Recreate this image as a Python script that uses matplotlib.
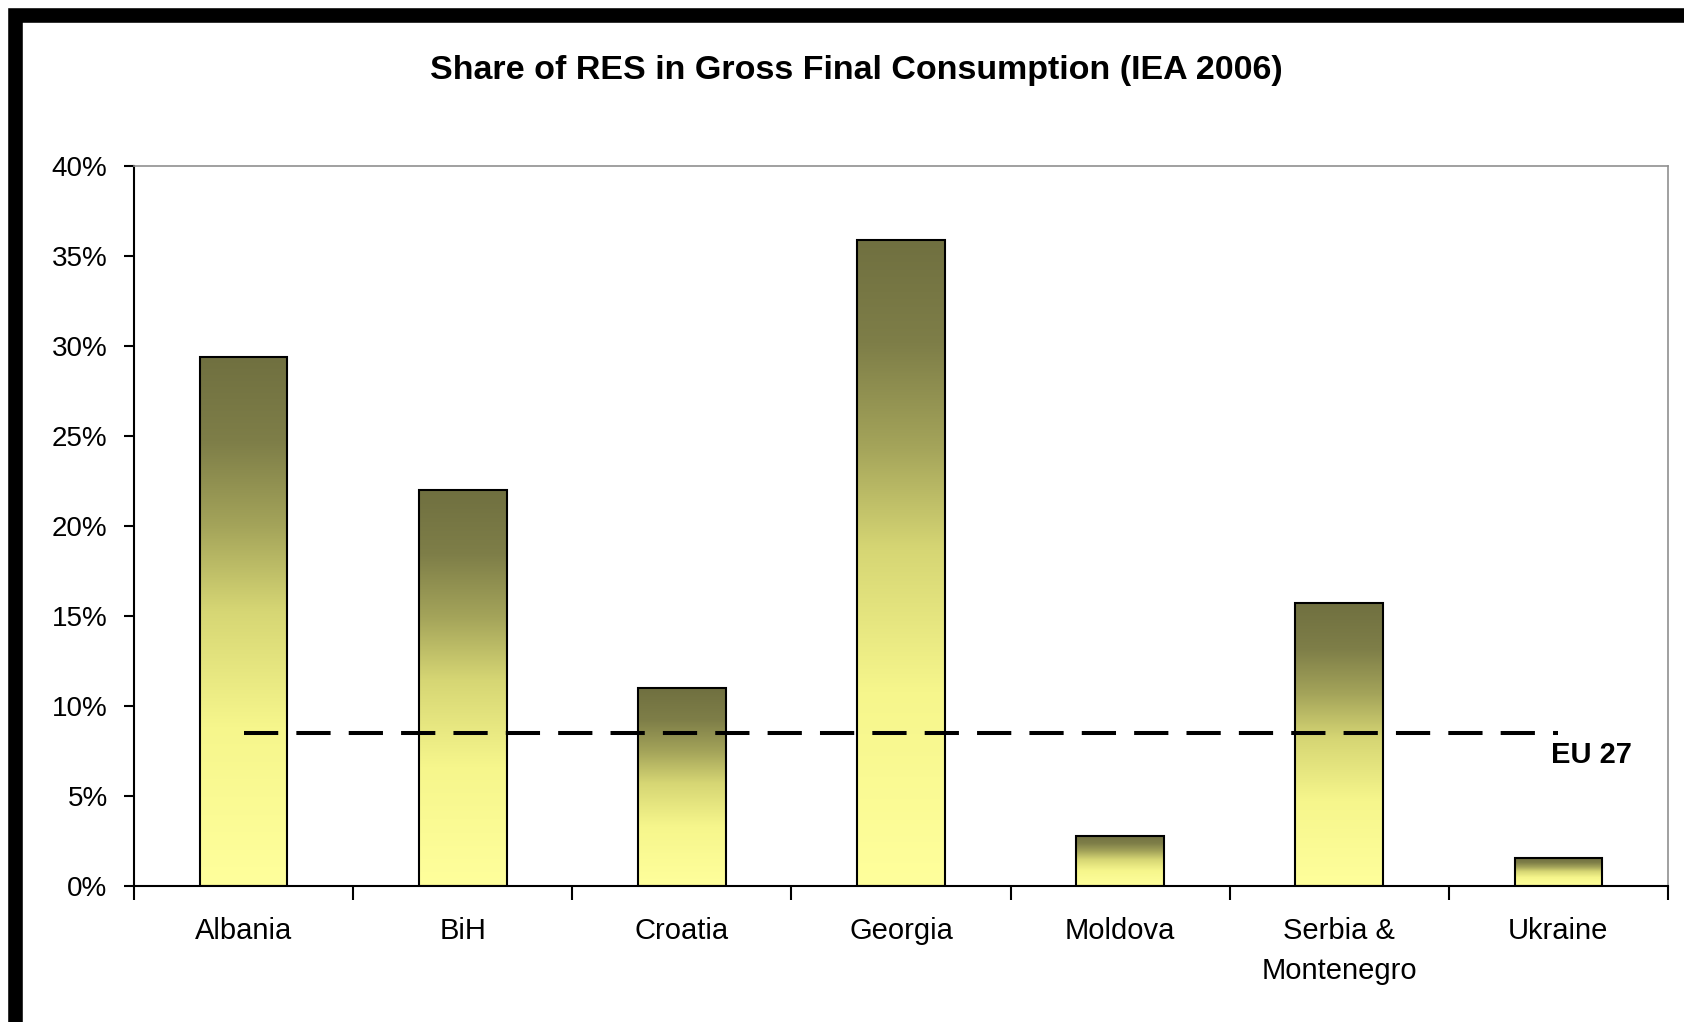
import numpy as np
import matplotlib
matplotlib.use("Agg")
import matplotlib.pyplot as plt
from matplotlib.colors import LinearSegmentedColormap
from matplotlib.patches import Rectangle

countries = ["Albania", "BiH", "Croatia", "Georgia", "Moldova",
             "Serbia &\nMontenegro", "Ukraine"]
res_share = [29.4, 22.0, 11.0, 35.9, 2.8, 15.7, 1.55]
eu27_share = 8.5
y_ticks = [0, 5, 10, 15, 20, 25, 30, 35, 40]

plt.rcParams["font.family"] = ["Liberation Sans", "DejaVu Sans"]

W, H, DPI = 1684, 1022, 100
fig = plt.figure(figsize=(W / DPI, H / DPI), dpi=DPI, facecolor="white")
ax = fig.add_axes([134 / W, 1 - 886 / H, (1668 - 134) / W, (886 - 166) / H])

# olive-to-pale-yellow fill, dark at the top of each bar
fill_cmap = LinearSegmentedColormap.from_list(
    "olive", [(0.0, "#ffff9c"), (0.30, "#f6f68c"), (0.52, "#d6d674"),
              (0.68, "#a4a45a"), (0.84, "#7e7e48"), (1.0, "#707040")])
grad = np.linspace(0, 1, 256).reshape(-1, 1)

x = np.arange(len(countries))
bar_w = 0.40
bars = ax.bar(x, res_share, width=bar_w, color="none", edgecolor="black",
              linewidth=1.5, zorder=3)
for b in bars:
    x0, w, h = b.get_x(), b.get_width(), b.get_height()
    im = ax.imshow(grad, cmap=fill_cmap, origin="lower", aspect="auto",
                   extent=(x0, x0 + w, 0, h), interpolation="bilinear",
                   zorder=2)
    im.set_clip_path(b)

ax.plot([x[0], x[-1]], [eu27_share, eu27_share], color="black", lw=2.9,
        linestyle=(0, (8.5, 4.5)), dash_capstyle="butt", zorder=4)
ax.text(6.15, 7.3, "EU 27", ha="center", va="center", fontsize=21,
        fontweight="bold", zorder=5)

ax.set_xlim(-0.5, len(countries) - 0.5)
ax.set_ylim(0, 40)
ax.set_yticks(y_ticks)
ax.set_yticklabels([f"{v}%" for v in y_ticks])
ax.set_xticks(x)
ax.set_xticklabels(countries, linespacing=1.55)
ax.set_xticks(np.arange(-0.5, len(countries), 1.0), minor=True)
ax.tick_params(axis="x", which="major", length=0, pad=22, labelsize=21)
ax.tick_params(axis="x", which="minor", length=10, width=1.5,
               direction="out", color="black")
ax.tick_params(axis="y", length=7, width=1.5, direction="out", pad=12,
               labelsize=20)

for s in ("left", "bottom"):
    ax.spines[s].set_linewidth(1.5)
    ax.spines[s].set_color("black")
for s in ("top", "right"):
    ax.spines[s].set_linewidth(1.2)
    ax.spines[s].set_color("#909090")
    ax.spines[s].set_linestyle((0, (1, 1)))

fig.text(856 / W, 1 - 70 / H, "Share of RES in Gross Final Consumption (IEA 2006)",
         ha="center", va="center", fontsize=24.5, fontweight="bold")

# heavy black border around the chart area
fig.patches.append(Rectangle((15 / W, -0.02), 1.2, 1 - 15 / H + 0.02,
                             transform=fig.transFigure, fill=False,
                             edgecolor="black", linewidth=10.5))

fig.savefig("out.png", dpi=DPI, facecolor="white")
